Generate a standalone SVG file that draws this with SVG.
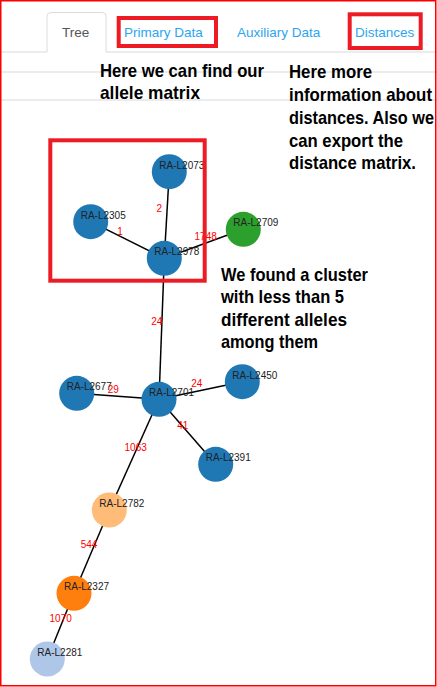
<svg xmlns="http://www.w3.org/2000/svg" width="437" height="687" viewBox="0 0 437 687">
<style>
.tab{font-family:"Liberation Sans",Arial,sans-serif;font-size:13.5px;fill:#2aa6f2}
.note{font-family:"Liberation Sans",Arial,sans-serif;font-size:18.5px;font-weight:bold;fill:#000}
.hl{fill:none;stroke:#ed1c24;stroke-width:4}
.sep{stroke:#d9d9d9;stroke-width:1}
.edge line{stroke:#000;stroke-width:1.5}
.elab{font-family:"Liberation Sans",Arial,sans-serif;font-size:10px;fill:#ff0000;text-anchor:middle}
.nlab{font-family:"Liberation Sans",Arial,sans-serif;font-size:10px;fill:#222}
.c1{fill:#1f77b4}.c2{fill:#2ca02c}.c3{fill:#ffbb78}.c4{fill:#ff7f0e}.c5{fill:#aec7e8}
</style>
<rect x="0" y="0" width="437" height="687" fill="#fff"/>
<!-- tabs -->
<g id="tabs">
<line class="sep" x1="0" y1="52" x2="47" y2="52"/>
<line class="sep" x1="106" y1="52" x2="437" y2="52"/>
<path d="M47,52 V16 Q47,12.5 51,12.5 H102 Q106,12.5 106,16 V52" fill="#fff" stroke="#dcdcdc" stroke-width="1"/>
<text x="62" y="37" font-family="Liberation Sans,Arial,sans-serif" font-size="13.5" fill="#555">Tree</text>
<text class="tab" x="124" y="37">Primary Data</text>
<text class="tab" x="237" y="37">Auxiliary Data</text>
<text class="tab" x="355" y="37">Distances</text>
<rect class="hl" x="118.7" y="18" width="97.3" height="28"/>
<rect class="hl" x="349.7" y="14.3" width="71" height="33.7"/>
</g>
<line class="sep" x1="0" y1="72" x2="437" y2="72"/>
<line class="sep" x1="0" y1="100" x2="437" y2="100"/>
<!-- notes -->
<g id="note-primary">
<text class="note" x="100" y="77.3" textLength="164" lengthAdjust="spacingAndGlyphs">Here we can find our</text>
<text class="note" x="100" y="99.3" textLength="100" lengthAdjust="spacingAndGlyphs">allele matrix</text>
</g>
<g id="note-distances">
<text class="note" x="289" y="77.7" textLength="83" lengthAdjust="spacingAndGlyphs">Here more</text>
<text class="note" x="289" y="100.7" textLength="143" lengthAdjust="spacingAndGlyphs">information about</text>
<text class="note" x="289" y="123.5" textLength="145" lengthAdjust="spacingAndGlyphs">distances. Also we</text>
<text class="note" x="289" y="146.5" textLength="114" lengthAdjust="spacingAndGlyphs">can export the</text>
<text class="note" x="289" y="169" textLength="127" lengthAdjust="spacingAndGlyphs">distance matrix.</text>
</g>
<g id="note-cluster">
<text class="note" x="221" y="280.7" textLength="147" lengthAdjust="spacingAndGlyphs">We found a cluster</text>
<text class="note" x="221" y="303" textLength="123" lengthAdjust="spacingAndGlyphs">with less than 5</text>
<text class="note" x="221" y="326" textLength="126" lengthAdjust="spacingAndGlyphs">different alleles</text>
<text class="note" x="221" y="348.3" textLength="97" lengthAdjust="spacingAndGlyphs">among them</text>
</g>
<!-- connectors -->
<g id="connectors" class="edge">
<line x1="164.3" y1="258.3" x2="169.3" y2="171.7"/>
<line x1="164.3" y1="258.3" x2="90.7" y2="221.7"/>
<line x1="164.3" y1="258.3" x2="243.3" y2="229.3"/>
<line x1="164.3" y1="258.3" x2="159" y2="399.3"/>
<line x1="159" y1="399.3" x2="76.7" y2="393.3"/>
<line x1="159" y1="399.3" x2="242.3" y2="381.7"/>
<line x1="159" y1="399.3" x2="215.7" y2="464.3"/>
<line x1="159" y1="399.3" x2="109.3" y2="510"/>
<line x1="109.3" y1="510" x2="74" y2="593.3"/>
<line x1="74" y1="593.3" x2="47.3" y2="659"/>
</g>
<!-- nodes -->
<g id="node-RA-L2073"><circle class="c1" cx="169.3" cy="171.7" r="17.5"/><text class="nlab" x="159.3" y="168.7">RA-L2073</text></g>
<g id="node-RA-L2305"><circle class="c1" cx="90.7" cy="221.7" r="17.5"/><text class="nlab" x="80.7" y="218.7">RA-L2305</text></g>
<g id="node-RA-L2709"><circle class="c2" cx="243.3" cy="229.3" r="17.5"/><text class="nlab" x="233.3" y="226.3">RA-L2709</text></g>
<g id="node-RA-L2978"><circle class="c1" cx="164.3" cy="258.3" r="17.5"/><text class="nlab" x="154.3" y="255.3">RA-L2978</text></g>
<g id="node-RA-L2677"><circle class="c1" cx="76.7" cy="393.3" r="17.5"/><text class="nlab" x="66.7" y="390.3">RA-L2677</text></g>
<g id="node-RA-L2450"><circle class="c1" cx="242.3" cy="381.7" r="17.5"/><text class="nlab" x="232.3" y="378.7">RA-L2450</text></g>
<g id="node-RA-L2701"><circle class="c1" cx="159" cy="399.3" r="17.5"/><text class="nlab" x="149" y="396.3">RA-L2701</text></g>
<g id="node-RA-L2391"><circle class="c1" cx="215.7" cy="464.3" r="17.5"/><text class="nlab" x="205.7" y="461.3">RA-L2391</text></g>
<g id="node-RA-L2782"><circle class="c3" cx="109.3" cy="510" r="17.5"/><text class="nlab" x="99.3" y="507">RA-L2782</text></g>
<g id="node-RA-L2327"><circle class="c4" cx="74" cy="593.3" r="17.5"/><text class="nlab" x="64" y="590.3">RA-L2327</text></g>
<g id="node-RA-L2281"><circle class="c5" cx="47.3" cy="659" r="17.5"/><text class="nlab" x="37.3" y="656">RA-L2281</text></g>
<!-- edge labels -->
<g id="edge-labels">
<text class="elab" x="159.3" y="211.8">2</text>
<text class="elab" x="120" y="235.2">1</text>
<text class="elab" x="205.7" y="240.2">1748</text>
<text class="elab" x="156.7" y="325.2">24</text>
<text class="elab" x="113.3" y="392.8">29</text>
<text class="elab" x="196.7" y="386.8">24</text>
<text class="elab" x="182.7" y="428.5">41</text>
<text class="elab" x="135.7" y="450.8">1063</text>
<text class="elab" x="89" y="547.8">544</text>
<text class="elab" x="60.7" y="621.8">1070</text>
</g>
<!-- cluster highlight -->
<rect id="cluster-box" class="hl" x="50.3" y="140.3" width="154.4" height="140.4"/>
<!-- outer frame -->
<rect x="0.75" y="0.75" width="435" height="685" fill="none" stroke="#ff0000" stroke-width="1.5"/>
</svg>
